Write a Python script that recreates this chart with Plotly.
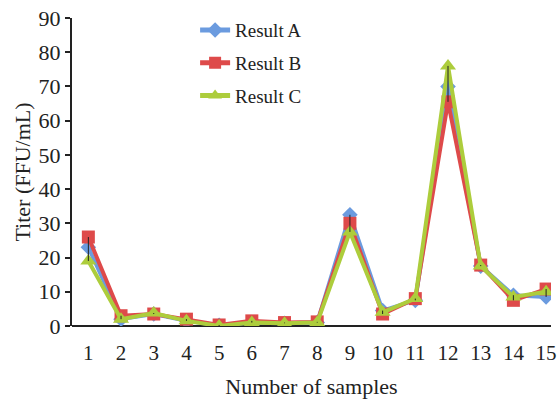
import numpy as np
import plotly.graph_objects as go

samples = list(range(1, 16))
result_a = [23, 2, 3.5, 1.5, 0.2, 1, 0.8, 1, 32.5, 4.5, 7.5, 70, 17.5, 9, 8.5]
result_b = [26, 3, 3.5, 2, 0.3, 1.5, 1, 1.2, 30, 3.5, 8, 65.5, 17.8, 7.5, 10.8]
result_c = [19, 2, 3.8, 1.5, 0.0, 1, 0.8, 1, 27.5, 4, 8, 76, 17.5, 8.5, 10]

arr = np.array([result_a, result_b, result_c])
mean = arr.mean(axis=0)
err_plus = arr.max(axis=0) - mean
err_minus = mean - arr.min(axis=0)

serif = "Liberation Serif, Times New Roman, serif"

fig = go.Figure()
fig.add_trace(go.Scatter(x=samples, y=result_a, name="Result A", mode="lines+markers",
                         legendgroup="a",
                         line=dict(color="#6B9BDF", width=4),
                         marker=dict(symbol="diamond", size=12, color="#6B9BDF")))
fig.add_trace(go.Scatter(x=samples, y=result_b, name="Result B", mode="lines+markers",
                         legendgroup="b",
                         line=dict(color="#DE4A4A", width=4),
                         marker=dict(symbol="square", size=13, color="#DE4A4A")))
fig.add_trace(go.Scatter(x=samples, y=result_c, name="Result C", mode="lines+markers",
                         legendgroup="c",
                         line=dict(color="#ADCD3C", width=4),
                         marker=dict(symbol="triangle-up", size=14, color="#ADCD3C")))
fig.add_trace(go.Scatter(x=samples, y=mean, mode="lines", showlegend=False,
                         line=dict(width=0, color="rgba(0,0,0,0)"), hoverinfo="skip",
                         error_y=dict(type="data", symmetric=False, array=err_plus,
                                      arrayminus=err_minus, color="#222222",
                                      thickness=1, width=0)))

fig.update_layout(
    width=557, height=399,
    margin=dict(l=72, r=0, t=18, b=73),
    paper_bgcolor="white", plot_bgcolor="white",
    font=dict(family=serif, size=22, color="#222222"),
    legend=dict(x=0.257, y=1.022, xanchor="left", yanchor="top",
                font=dict(family=serif, size=19, color="#222222"),
                bgcolor="rgba(0,0,0,0)", tracegroupgap=5, itemsizing="constant"),
    xaxis=dict(range=[0.5, 15.15], tickmode="array", tickvals=samples,
               ticktext=[str(s) for s in samples], showgrid=False, zeroline=False,
               showline=False, ticks="outside", ticklen=8, tickcolor="rgba(0,0,0,0)",
               tickfont=dict(size=21), ticklabeloverflow="allow",
               title=dict(text="Number of samples", font=dict(size=22), standoff=14)),
    yaxis=dict(range=[0, 90], dtick=10, showgrid=False, zeroline=True,
               zerolinecolor="#222222", zerolinewidth=2,
               showline=True, linecolor="#222222", linewidth=2,
               ticks="outside", ticklen=5, tickcolor="#222222", tickwidth=2,
               tickfont=dict(size=22),
               title=dict(text="Titer (FFU/mL)", font=dict(size=22), standoff=2)),
)

fig.write_html("out.html", config={"displayModeBar": False},
               post_script="document.body.style.margin='0';")
